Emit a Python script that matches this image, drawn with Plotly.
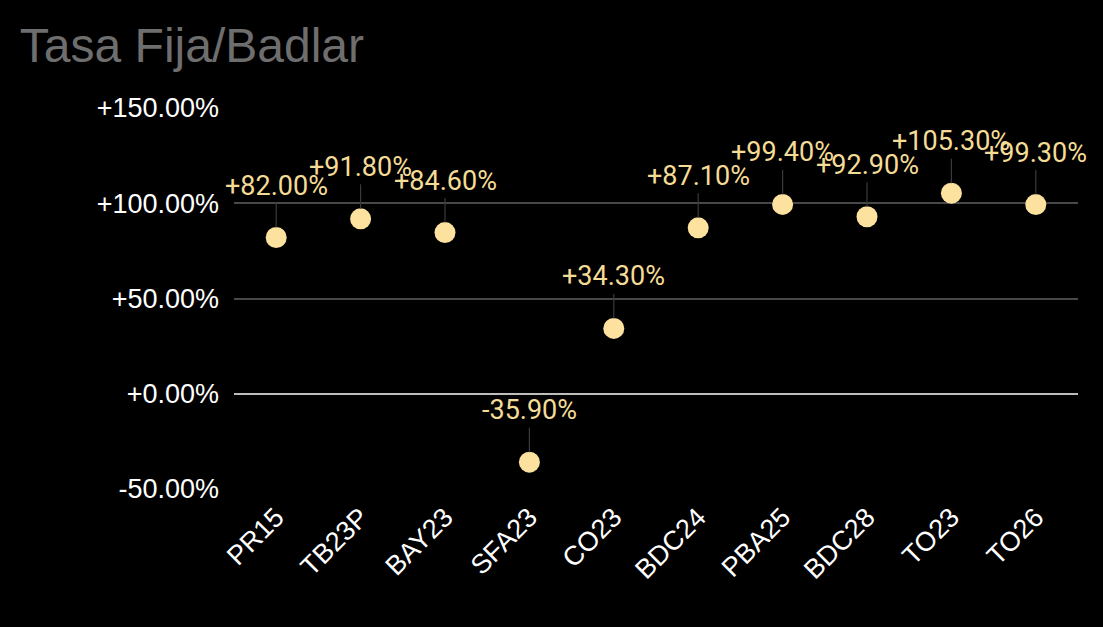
import plotly.graph_objects as go

categories = ["PR15", "TB23P", "BAY23", "SFA23", "CO23", "BDC24", "PBA25", "BDC28", "TO23", "TO26"]
values = [82.0, 91.8, 84.6, -35.9, 34.3, 87.1, 99.4, 92.9, 105.3, 99.3]
tick_vals = [-50, 0, 50, 100, 150]
tick_text = ["-50.00%", "+0.00%", "+50.00%", "+100.00%", "+150.00%"]

label_color = "#F5DC96"
marker_color = "#FCE29E"

fig = go.Figure()
fig.add_trace(go.Scatter(
    x=categories, y=values, mode="markers",
    marker=dict(size=21, color=marker_color, line=dict(width=0)),
    hoverinfo="x+y",
))

for c, v in zip(categories, values):
    fig.add_annotation(
        x=c, y=v, text=("+" if v >= 0 else "") + f"{v:.2f}%",
        showarrow=True, arrowhead=0, arrowwidth=1.2, arrowcolor="#3a3a3a",
        ax=0, ay=-52, standoff=10,
        font=dict(family="Roboto", size=27, color=label_color),
    )

fig.update_layout(
    width=1103, height=627,
    paper_bgcolor="black", plot_bgcolor="black",
    margin=dict(l=234, r=25, t=108, b=138),
    showlegend=False,
    title=dict(text="Tasa Fija/Badlar", x=0.018, xanchor="left", y=0.928, yanchor="middle",
               font=dict(family="Liberation Sans, Arial", size=48, color="#6e6e6e")),
    xaxis=dict(
        type="category", range=[-0.5, 9.5], showgrid=False, zeroline=False,
        showline=False, ticks="", tickangle=-45, ticklabelstandoff=6,
        tickfont=dict(family="Liberation Sans, Arial", size=27, color="white"),
    ),
    yaxis=dict(
        range=[-50, 150], tickvals=tick_vals, ticktext=tick_text,
        showgrid=True, gridcolor="#484848", gridwidth=2,
        zeroline=True, zerolinecolor="#bdbdbd", zerolinewidth=2,
        showline=False, ticks="", ticklabelstandoff=14,
        tickfont=dict(family="Liberation Sans, Arial", size=27, color="white"),
    ),
)

fig.write_html("out.html")
